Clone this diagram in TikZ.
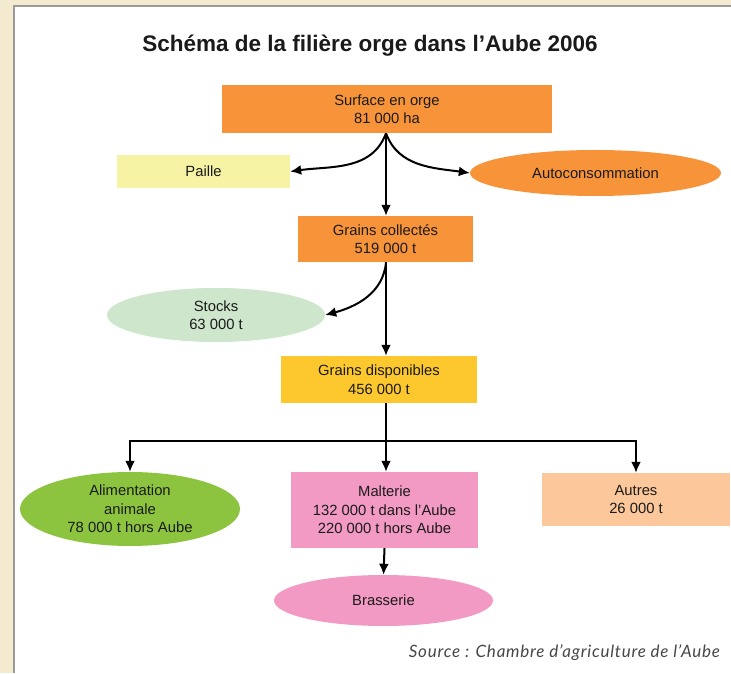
\documentclass[tikz,border=0pt]{standalone}
\usepackage{fontspec}
\setmainfont{Liberation Sans}
\newfontfamily\srcfont{Lato}[LetterSpace=4.5]
\usetikzlibrary{arrows.meta,shapes.geometric}
\definecolor{beige}{HTML}{F3EAD0}
\definecolor{frame}{HTML}{9B9B9B}
\definecolor{orangeA}{HTML}{F7943A}
\definecolor{paille}{HTML}{F7F3A5}
\definecolor{stocks}{HTML}{CDE6CC}
\definecolor{dispo}{HTML}{FDC82E}
\definecolor{alim}{HTML}{8CC43F}
\definecolor{pinkA}{HTML}{F29AC3}
\definecolor{autres}{HTML}{FCC89B}
\definecolor{txt}{HTML}{1A1A1A}
\begin{document}
\begin{tikzpicture}[x=1pt,y=1pt,
  boxtext/.style={font=\fontsize{14.8}{18.5}\selectfont, text=txt, align=center, inner sep=0pt},
  rbox/.style={boxtext, rectangle, draw=none, fill=#1},
  ebox/.style={boxtext, ellipse, draw=none, fill=#1},
  arr/.style={draw=black, line width=2pt, -{Latex[length=11pt,width=10pt]}},
  ln/.style={draw=black, line width=2pt}]
\useasboundingbox (0,0) rectangle (731,673);
\fill[beige] (0,0) rectangle (731,673);
\fill[white] (13,0) rectangle (731,667);
\draw[frame, line width=2.5pt] (14,0) -- (14,667) -- (731,667);
% title
\node[font=\bfseries\fontsize{22.5}{26}\selectfont, text=txt] (title) at (370,627) {Schéma de la filière orge dans l’Aube 2006};
% nodes
\node[rbox=orangeA, minimum width=330pt, minimum height=48pt] (surf) at (387,564) {Surface en orge\\81 000 ha};
\node[rbox=paille, minimum width=173pt, minimum height=33pt] (paille) at (203.5,501.5) {Paille};
\node[ebox=orangeA, minimum width=251pt, minimum height=46pt] (auto) at (595.5,500) {Autoconsommation};
\node[rbox=orangeA, minimum width=175pt, minimum height=46pt] (gc) at (385.5,434) {Grains collectés\\519 000 t};
\node[ebox=stocks, minimum width=218pt, minimum height=54pt] (stocks) at (216,358) {Stocks\\63 000 t};
\node[rbox=dispo, minimum width=196pt, minimum height=47pt] (gd) at (379,293.5) {Grains disponibles\\456 000 t};
\node[ebox=alim, minimum width=220pt, minimum height=74pt] (alim) at (130,164) {Alimentation\\animale\\78 000 t hors Aube};
\node[rbox=pinkA, minimum width=187pt, minimum height=76pt] (malt) at (384.5,163) {Malterie\\132 000 t dans l’Aube\\220 000 t hors Aube};
\node[rbox=autres, minimum width=188pt, minimum height=53pt] (autres) at (636,173.5) {Autres\\26 000 t};
\node[ebox=pinkA, minimum width=219pt, minimum height=51pt] (brass) at (383.5,72.5) {Brasserie};
\node[anchor=south east, font=\srcfont\itshape\fontsize{17}{20}\selectfont, text=black!72, inner sep=0pt] (src) at (720,12) {Source : Chambre d’agriculture de l’Aube};
% helper coordinates
\coordinate (trunk) at (386,0);
\coordinate (bar) at (0,232);
% connectors
\draw[arr] (surf.south -| trunk) to[out=-110,in=8] (paille.east);
\draw[arr] (surf.south -| trunk) to[out=-70,in=172] (auto.west);
\draw[arr] (surf.south -| trunk) -- (gc.north -| trunk);
\draw[arr] (gc.south -| trunk) to[out=-95,in=15] (stocks.east);
\draw[arr] (gc.south -| trunk) -- (gd.north -| trunk);
\draw[ln] (gd.south -| trunk) -- (bar -| trunk);
\draw[arr] (bar -| trunk) -| (alim.north);
\draw[arr] (bar -| trunk) -| (autres.north);
\draw[arr] (bar -| trunk) -- (malt.north -| trunk);
\draw[arr] (malt.south) -- (brass.north);
\end{tikzpicture}
\end{document}
